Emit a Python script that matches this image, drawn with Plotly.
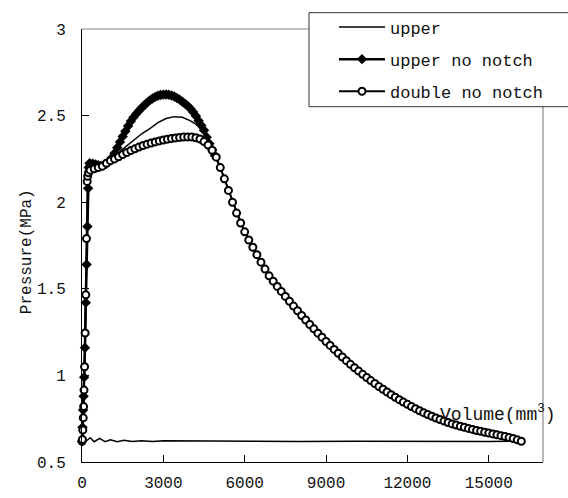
import plotly.graph_objects as go

# ---------------- data ----------------
series_names = ["upper", "upper no notch", "double no notch"]

# "upper": loading curve, unloading and return along the base line
upper_x = [0, 30, 60, 100, 140, 180, 210, 240, 300, 500,
           800, 1000, 1300, 1600, 1900, 2200, 2500, 2800, 3100, 3400,
           3700, 4000, 4300, 4500, 4650, 4800, 5000, 5200, 5500, 6000,
           6500, 7000, 8000, 9000, 10000, 11000, 12000, 13000, 14000, 15000,
           16200,
           15000, 14000, 12000, 10000, 8000, 6000, 4000, 3000, 2600, 2200,
           1850, 1550, 1300, 1050, 850, 650, 450, 300, 150, 0]
upper_y = [0.62, 0.70, 0.85, 1.10, 1.45, 1.80, 2.10, 2.19, 2.20, 2.20,
           2.215, 2.25, 2.28, 2.32, 2.36, 2.395, 2.425, 2.46, 2.483, 2.494,
           2.49, 2.47, 2.44, 2.40, 2.36, 2.305, 2.24, 2.16, 2.03, 1.829,
           1.69, 1.55, 1.364, 1.196, 1.05, 0.93, 0.833, 0.757, 0.704, 0.667,
           0.62,
           0.619, 0.62, 0.62, 0.62, 0.619, 0.621, 0.62, 0.622, 0.619, 0.623,
           0.618, 0.625, 0.617, 0.628, 0.617, 0.636, 0.617, 0.64, 0.62, 0.63]

# "upper no notch"
unn_x = [0, 20, 40, 60, 80, 110, 140, 170, 200, 225, 250, 280,
         300, 400, 500, 600, 700, 800, 900, 1000, 1100, 1200,
         1300, 1400, 1500, 1600, 1700, 1800, 1900, 2000, 2100, 2200,
         2300, 2400, 2500, 2600, 2700, 2800, 2900, 3000, 3100, 3200,
         3300, 3400, 3500, 3600, 3700, 3800, 3900, 4000, 4100, 4200,
         4300, 4400, 4500, 4600, 4700, 4800, 4900]
unn_y = [0.62, 0.70, 0.80, 0.88, 0.99, 1.16, 1.42, 1.64, 1.86, 2.08, 2.20, 2.225,
         2.222, 2.222, 2.218, 2.214, 2.210, 2.213, 2.222, 2.235, 2.257, 2.283,
         2.315, 2.348, 2.380, 2.410, 2.440, 2.467, 2.490, 2.510, 2.528, 2.545,
         2.560, 2.575, 2.588, 2.599, 2.608, 2.615, 2.619, 2.621, 2.622, 2.620,
         2.616, 2.610, 2.602, 2.592, 2.580, 2.568, 2.555, 2.540, 2.521, 2.498,
         2.470, 2.443, 2.415, 2.375, 2.338, 2.303, 2.270]

# "double no notch"
dnn_x = [0, 15, 30, 45, 60, 75, 95, 115, 140, 165, 190, 210, 240, 300,
         450, 600, 750, 900, 1050, 1200, 1350, 1500, 1650, 1800,
         1950, 2100, 2250, 2400, 2550, 2700, 2850, 3000, 3150, 3300,
         3450, 3600, 3750, 3900, 4050, 4200, 4350, 4500, 4650, 4800,
         4950, 5100, 5250, 5400, 5550, 5700, 5850, 6000, 6150, 6300,
         6450, 6600, 6750, 6900, 7050, 7200, 7350, 7500, 7650, 7800,
         7950, 8100, 8250, 8400, 8550, 8700, 8850, 9000, 9150, 9300,
         9450, 9600, 9750, 9900, 10050, 10200, 10350, 10500, 10650, 10800,
         10950, 11100, 11250, 11400, 11550, 11700, 11850, 12000, 12150, 12300,
         12450, 12600, 12750, 12900, 13050, 13200, 13350, 13500, 13650, 13800,
         13950, 14100, 14250, 14400, 14550, 14700, 14850, 15000, 15150, 15300,
         15450, 15600, 15750, 15900, 16050, 16200]
dnn_y = [0.62, 0.63, 0.685, 0.755, 0.82, 0.915, 1.05, 1.245, 1.465, 1.79, 2.12, 2.15, 2.17, 2.185,
         2.193, 2.200, 2.208, 2.225, 2.240, 2.250, 2.262, 2.275, 2.287, 2.298,
         2.308, 2.318, 2.327, 2.335, 2.342, 2.348, 2.354, 2.359, 2.364, 2.368,
         2.371, 2.374, 2.376, 2.377, 2.376, 2.372, 2.365, 2.350, 2.330, 2.300,
         2.260, 2.200, 2.135, 2.068, 2.000, 1.937, 1.880, 1.829, 1.782, 1.740,
         1.697, 1.654, 1.614, 1.575, 1.544, 1.514, 1.485, 1.456, 1.428, 1.400,
         1.373, 1.346, 1.320, 1.294, 1.269, 1.244, 1.220, 1.196, 1.173, 1.150,
         1.128, 1.106, 1.085, 1.064, 1.044, 1.025, 1.006, 0.988, 0.970, 0.953,
         0.936, 0.920, 0.904, 0.889, 0.874, 0.860, 0.846, 0.833, 0.820, 0.808,
         0.796, 0.785, 0.774, 0.764, 0.754, 0.745, 0.736, 0.728, 0.720, 0.713,
         0.706, 0.700, 0.694, 0.688, 0.682, 0.677, 0.672, 0.667, 0.662, 0.657,
         0.652, 0.647, 0.641, 0.635, 0.628, 0.620]

x_ticks = [0, 3000, 6000, 9000, 12000, 15000]
x_tick_labels = ["0", "3000", "6000", "9000", "12000", "15000"]
y_ticks = [0.5, 1, 1.5, 2, 2.5, 3]
y_tick_labels = ["0.5", "1", "1.5", "2", "2.5", "3"]

x_title = "Volume(mm<sup>3</sup>)"
y_title = "Pressure(MPa)"

# ---------------- figure ----------------
FONT = "Liberation Mono"

fig = go.Figure()
fig.add_trace(go.Scatter(
    x=upper_x, y=upper_y, mode="lines", name=series_names[0],
    line=dict(color="black", width=1.5), cliponaxis=False, legendgroup="g1"))
fig.add_trace(go.Scatter(
    x=unn_x, y=unn_y, mode="lines+markers", name=series_names[1],
    line=dict(color="black", width=2.5),
    marker=dict(symbol="diamond", size=8, color="black"),
    cliponaxis=False, legendgroup="g2"))
fig.add_trace(go.Scatter(
    x=dnn_x, y=dnn_y, mode="lines+markers", name=series_names[2],
    line=dict(color="black", width=2),
    marker=dict(symbol="circle", size=7, color="white",
                line=dict(color="black", width=2)),
    cliponaxis=False, legendgroup="g3"))

fig.update_layout(
    width=568, height=498,
    margin=dict(l=82, r=25, t=29, b=36, autoexpand=False),
    paper_bgcolor="white", plot_bgcolor="white",
    font=dict(family=FONT, size=16, color="#111111"),
    showlegend=True,
    legend=dict(x=0.5466, xanchor="left", y=1.045, yanchor="top",
                bgcolor="rgba(0,0,0,0)", borderwidth=0, itemwidth=46,
                font=dict(family=FONT, size=17, color="#111111"),
                traceorder="grouped", tracegroupgap=7),
    xaxis=dict(range=[0, 17000], showline=True, linecolor="black", linewidth=1,
               ticks="inside", ticklen=7, tickcolor="black",
               tickvals=x_ticks, ticktext=x_tick_labels,
               showgrid=False, zeroline=False, ticklabelstandoff=6,
               tickfont=dict(family=FONT, size=16, color="#111111")),
    yaxis=dict(range=[0.5, 3], showline=True, linecolor="black", linewidth=1,
               ticks="inside", ticklen=7, tickcolor="black",
               tickvals=y_ticks, ticktext=y_tick_labels,
               showgrid=False, zeroline=False, ticklabelstandoff=12,
               tickfont=dict(family=FONT, size=16, color="#111111")),
    shapes=[
        dict(type="line", xref="paper", yref="paper", x0=0, x1=1, y0=1, y1=1,
             line=dict(color="#888888", width=1.2), layer="above"),
        dict(type="line", xref="paper", yref="paper", x0=1, x1=1, y0=0, y1=1,
             line=dict(color="#888888", width=1.2), layer="above"),
        dict(type="rect", xref="paper", yref="paper", x0=0.4924, x1=1.2,
             y0=0.8206, y1=1.0377, line=dict(color="#333333", width=1),
             fillcolor="white", layer="above"),
    ],
    annotations=[
        dict(text=y_title, xref="paper", yref="paper", x=-0.119, y=0.485,
             textangle=-90, showarrow=False, xanchor="center", yanchor="middle",
             font=dict(family=FONT, size=16, color="#111111")),
        dict(text=x_title, xref="paper", yref="paper", x=1.032, y=0.113,
             showarrow=False, xanchor="right", yanchor="middle",
             font=dict(family=FONT, size=18, color="#111111")),
    ],
)

fig.write_html("out.html",
               config={"displayModeBar": False, "staticPlot": True},
               post_script="document.body.style.margin='0px';"
                           "document.body.style.overflow='hidden';")
